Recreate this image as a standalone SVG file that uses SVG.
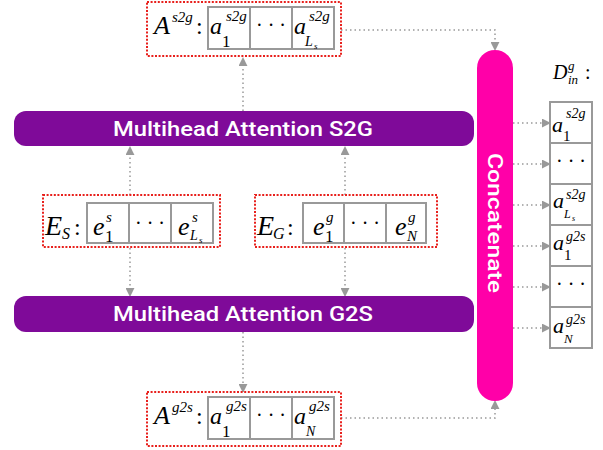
<svg xmlns="http://www.w3.org/2000/svg" width="603" height="450" viewBox="0 0 603 450">
<defs>
<marker id="ah" viewBox="0 0 10 10" refX="9" refY="5" markerWidth="9" markerHeight="9" markerUnits="userSpaceOnUse" orient="auto">
<path d="M0,0 L10,5 L0,10 Z" fill="#999"/>
</marker>
</defs>
<style>
.red{fill:#fff;stroke:#e8201c;stroke-width:2;stroke-dasharray:2 1.6}
.cell{fill:#fff;stroke:#999;stroke-width:2}
.m{font-family:"Liberation Serif",serif;font-style:italic;fill:#000}
.r{font-family:"Liberation Serif",serif;fill:#000}
.d{font-family:"Liberation Serif",serif;fill:#000;font-size:20px;text-anchor:middle}
.bar{fill:#7f0a99}
.bt{font-family:Roboto,"Liberation Sans",sans-serif;font-weight:500;fill:#fff;font-size:20px}
.c{fill:none;stroke:#999;stroke-width:1.5;stroke-dasharray:1.5 3}
</style>

<g id="connectors">
<path class="c" d="M243,111 V58" marker-end="url(#ah)"/>
<path class="c" d="M130,195 V147" marker-end="url(#ah)"/>
<path class="c" d="M345,195 V147" marker-end="url(#ah)"/>
<path class="c" d="M130,248 V296" marker-end="url(#ah)"/>
<path class="c" d="M345,248 V296" marker-end="url(#ah)"/>
<path class="c" d="M243,332 V392" marker-end="url(#ah)"/>
<path class="c" d="M341,30 H495 V50" marker-end="url(#ah)"/>
<path class="c" d="M341,418 H495 V401" marker-end="url(#ah)"/>
<path class="c" d="M513,123 H550" marker-end="url(#ah)"/>
<path class="c" d="M513,164 H550" marker-end="url(#ah)"/>
<path class="c" d="M513,205 H550" marker-end="url(#ah)"/>
<path class="c" d="M513,246 H550" marker-end="url(#ah)"/>
<path class="c" d="M513,287 H550" marker-end="url(#ah)"/>
<path class="c" d="M513,328 H550" marker-end="url(#ah)"/>
</g>

<g id="As2g">
<rect class="red" x="147" y="2" width="194" height="54"/>
<rect class="cell" x="208" y="7" width="42" height="42"/>
<rect class="cell" x="250" y="7" width="42" height="42"/>
<rect class="cell" x="292" y="7" width="42" height="42"/>
<text class="m" x="154" y="34" font-size="26">A</text>
<text class="m" x="172" y="22" font-size="15">s2g</text>
<text class="r" x="196" y="34" font-size="24">:</text>
<text class="m" x="210" y="34" font-size="24">a</text>
<text class="m" x="226" y="21" font-size="15">s2g</text>
<text class="r" x="222" y="47" font-size="17">1</text>
<text class="d" x="271" y="32">· · ·</text>
<text class="m" x="294" y="34" font-size="24">a</text>
<text class="m" x="309" y="21" font-size="15">s2g</text>
<text class="m" x="305" y="46" font-size="14">L</text>
<text class="m" x="314" y="49" font-size="9">s</text>
</g>

<g id="mha-s2g">
<rect class="bar" x="14" y="111" width="460" height="35" rx="12"/>
<text class="bt" x="243" y="136" text-anchor="middle" textLength="260" lengthAdjust="spacingAndGlyphs">Multihead Attention S2G</text>
</g>

<g id="ES">
<rect class="red" x="43" y="195" width="177" height="52"/>
<rect class="cell" x="87" y="203" width="42" height="40"/>
<rect class="cell" x="129" y="203" width="42" height="40"/>
<rect class="cell" x="171" y="203" width="42" height="40"/>
<text class="m" x="45" y="235" font-size="28">E</text>
<text class="m" x="62" y="239" font-size="16">S</text>
<text class="r" x="74" y="235" font-size="24">:</text>
<text class="m" x="93" y="235" font-size="26">e</text>
<text class="m" x="106" y="222" font-size="15">s</text>
<text class="r" x="105" y="242" font-size="17">1</text>
<text class="d" x="150" y="230">· · ·</text>
<text class="m" x="178" y="235" font-size="26">e</text>
<text class="m" x="192" y="222" font-size="15">s</text>
<text class="m" x="190" y="240" font-size="14">L</text>
<text class="m" x="199" y="243" font-size="9">s</text>
</g>

<g id="EG">
<rect class="red" x="255" y="195" width="182" height="52"/>
<rect class="cell" x="303" y="203" width="41" height="40"/>
<rect class="cell" x="344" y="203" width="42" height="40"/>
<rect class="cell" x="386" y="203" width="40" height="40"/>
<text class="m" x="257" y="235" font-size="28">E</text>
<text class="m" x="273" y="239" font-size="16">G</text>
<text class="r" x="287" y="235" font-size="24">:</text>
<text class="m" x="313" y="235" font-size="26">e</text>
<text class="m" x="326" y="222" font-size="15">g</text>
<text class="r" x="325" y="242" font-size="17">1</text>
<text class="d" x="365" y="230">· · ·</text>
<text class="m" x="395" y="235" font-size="26">e</text>
<text class="m" x="408" y="222" font-size="15">g</text>
<text class="m" x="407" y="241" font-size="15">N</text>
</g>

<g id="mha-g2s">
<rect class="bar" x="14" y="296" width="460" height="36" rx="12"/>
<text class="bt" x="243" y="321" text-anchor="middle" textLength="260" lengthAdjust="spacingAndGlyphs">Multihead Attention G2S</text>
</g>

<g id="Ag2s">
<rect class="red" x="147" y="392" width="194" height="54"/>
<rect class="cell" x="208" y="397" width="42" height="42"/>
<rect class="cell" x="250" y="397" width="42" height="42"/>
<rect class="cell" x="292" y="397" width="42" height="42"/>
<text class="m" x="154" y="424" font-size="26">A</text>
<text class="m" x="172" y="412" font-size="15">g2s</text>
<text class="r" x="196" y="424" font-size="24">:</text>
<text class="m" x="210" y="424" font-size="24">a</text>
<text class="m" x="226" y="411" font-size="15">g2s</text>
<text class="r" x="222" y="437" font-size="17">1</text>
<text class="d" x="271" y="422">· · ·</text>
<text class="m" x="294" y="424" font-size="24">a</text>
<text class="m" x="309" y="411" font-size="15">g2s</text>
<text class="m" x="306" y="436" font-size="14">N</text>
</g>

<g id="concatenate">
<rect x="477" y="50" width="36" height="351" rx="18" fill="#ff00a8"/>
<text class="bt" transform="translate(488,223) rotate(90)" text-anchor="middle" font-weight="700" textLength="140" lengthAdjust="spacingAndGlyphs">Concatenate</text>
</g>

<g id="Dgin">
<text class="m" x="553" y="79" font-size="20">D</text>
<text class="m" x="568" y="70" font-size="13">g</text>
<text class="m" x="568" y="84" font-size="13">in</text>
<text class="r" x="585" y="79" font-size="20">:</text>
<rect class="cell" x="550" y="102" width="42" height="41"/>
<rect class="cell" x="550" y="143" width="42" height="41"/>
<rect class="cell" x="550" y="184" width="42" height="41"/>
<rect class="cell" x="550" y="225" width="42" height="41"/>
<rect class="cell" x="550" y="266" width="42" height="41"/>
<rect class="cell" x="550" y="307" width="42" height="41"/>
<text class="m" x="552" y="132" font-size="22">a</text>
<text class="m" x="566" y="118" font-size="14">s2g</text>
<text class="r" x="563" y="141" font-size="15">1</text>
<text class="d" x="571" y="168" font-size="18">· · ·</text>
<text class="m" x="553" y="208" font-size="22">a</text>
<text class="m" x="566" y="199" font-size="14">s2g</text>
<text class="m" x="564" y="218" font-size="12">L</text>
<text class="m" x="572" y="221" font-size="8">s</text>
<text class="m" x="553" y="250" font-size="22">a</text>
<text class="m" x="566" y="241" font-size="14">g2s</text>
<text class="r" x="564" y="260" font-size="15">1</text>
<text class="d" x="571" y="291" font-size="18">· · ·</text>
<text class="m" x="553" y="333" font-size="22">a</text>
<text class="m" x="566" y="324" font-size="14">g2s</text>
<text class="m" x="564" y="343" font-size="13">N</text>
</g>
</svg>
